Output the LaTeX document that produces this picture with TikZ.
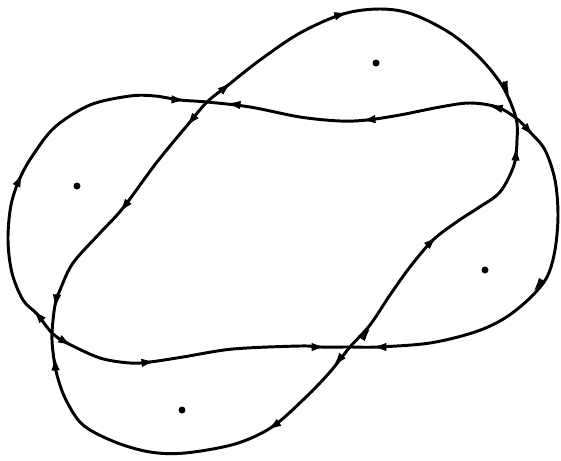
\documentclass[tikz,border=0pt]{standalone}
\usepackage{tikz}
\usetikzlibrary{arrows.meta}

\begin{document}
\begin{tikzpicture}[x=0.025cm, y=-0.025cm, line cap=round, line join=round,
  curva/.style={line width=2.1pt},
  freccia/.style={line width=2.1pt, -{Latex[length=11pt,width=6pt]}}]

\useasboundingbox[fill=white] (0,0) rectangle (561,461);

% Punti di sella
\coordinate (T) at (207,102);
\coordinate (R) at (516,118);
\coordinate (B) at (350,347);
\coordinate (L) at (52,333);

% Curva obliqua
\draw[curva] plot[smooth cycle, tension=0.55] coordinates {
  (T) (227,86) (260,60) (300,33) (343,14) (380,9) (412,14) (450,33)
  (480,58) (503,87) (R) (517,140) (514,165) (500,192) (478,208)
  (458,221) (433,240) (410,267) (390,295) (370,325) (B) (330,372)
  (305,398) (272,427) (235,444) (185,453) (150,452) (115,442) (83,425)
  (66,400) (57,375) (53,352) (L) (55,305) (60,290) (73,263) (100,233)
  (123,208) (157,162) (190,122)};

% Curva orizzontale
\draw[curva] plot[smooth cycle, tension=0.55] coordinates {
  (L) (37,314) (23,300) (12,273) (8,240) (11,205) (20,178) (33,155)
  (55,127) (90,105) (130,96) (155,96) (180,100) (T) (250,107) (300,117)
  (340,121) (367,120) (400,115) (440,107) (470,103) (497,107) (R)
  (530,132) (545,150) (555,180) (558,215) (555,250) (547,277) (530,298)
  (505,318) (475,332) (430,343) (378,347) (B) (320,347) (300,346)
  (233,349) (183,357) (150,362) (130,363) (100,358) (67,343)};

% Frecce (x/y/angolo)
\foreach \x/\y/\a in {227/86/-40, 190/122/130, 180/100/4, 232/104/187,
    507/90/67, 516/152/-87, 494/107/192, 530/132/48,
    367/332/-50, 337/362/131, 320/347/0, 378/347/180,
    56/303/96, 55/362/-94, 37/314/229, 67/343/30,
    343/14/-15, 433/240/-44, 272/427/147, 123/208/129,
    367/120/174, 537/287/129, 150/362/-6, 20/178/-66}
  \draw[freccia] (\x,\y) ++(\a+180:8) -- ++(\a:15);

% Centri
\foreach \x/\y in {77/186, 376/63, 485/270, 182/410}
  \fill (\x,\y) circle (3.5);

\end{tikzpicture}
\end{document}
